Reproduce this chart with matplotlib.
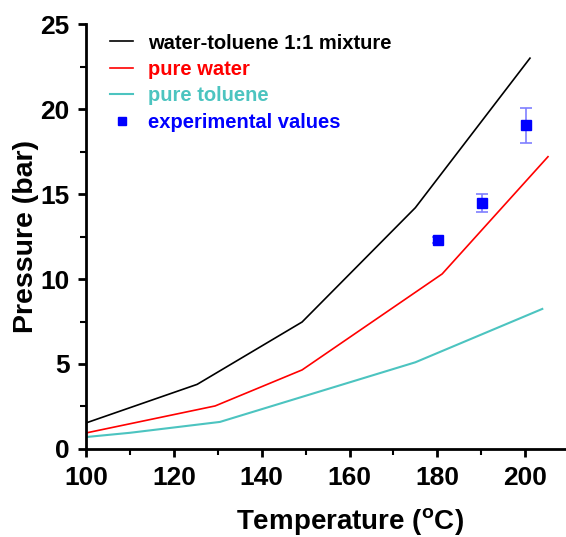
import numpy as np
import matplotlib.pyplot as plt
from matplotlib.ticker import MultipleLocator

plt.rcParams['font.family'] = ['Liberation Sans', 'DejaVu Sans']
plt.rcParams['font.weight'] = 'bold'

# ==== data ====
mix_T = [100, 125.3, 149.2, 175, 201.1]
mix_P = [1.53, 3.8, 7.47, 14.2, 23.0]

water_T = [100, 129.4, 149.2, 181.1, 205.2]
water_P = [0.94, 2.53, 4.65, 10.3, 17.2]

tol_T = [100, 110, 130.5, 175, 203.9]
tol_P = [0.7, 0.95, 1.59, 5.1, 8.24]

exp_T = [180.2, 190.2, 200.2]
exp_P = [12.3, 14.47, 19.06]
exp_err = [0.2, 0.53, 1.03]

fig = plt.figure(figsize=(5.66, 5.37), dpi=100)
ax = fig.add_axes([0.152, 0.164, 0.848, 0.791])

ax.plot(mix_T, mix_P, color='black', lw=1.2, label='water-toluene 1:1 mixture')
ax.plot(water_T, water_P, color='red', lw=1.2, label='pure water')
ax.plot(tol_T, tol_P, color='#4cc4c0', lw=1.5, label='pure toluene')
ax.errorbar(exp_T, exp_P, yerr=exp_err, fmt='none',
            ecolor='#7f7fff', elinewidth=1.2, capsize=4, capthick=1.2)
ax.plot(exp_T, exp_P, 's', color='blue', ms=7, label='experimental values')

ax.set_xlim(100, 209.3)
ax.set_ylim(0, 25)
ax.xaxis.set_major_locator(MultipleLocator(20))
ax.xaxis.set_minor_locator(MultipleLocator(10))
ax.yaxis.set_major_locator(MultipleLocator(5))
ax.yaxis.set_minor_locator(MultipleLocator(2.5))

for s in ['top', 'right']:
    ax.spines[s].set_visible(False)
for s in ['left', 'bottom']:
    ax.spines[s].set_linewidth(2)

ax.tick_params(which='major', direction='out', length=6, width=2, labelsize=19, pad=6)
ax.tick_params(which='minor', direction='out', length=4, width=1.5)
for lab in ax.get_xticklabels() + ax.get_yticklabels():
    lab.set_fontweight('bold')

ax.set_xlabel('Temperature ($^\\mathregular{o}$C)', fontsize=20, fontweight='bold')
ax.set_ylabel('Pressure (bar)', fontsize=20.5, fontweight='bold')
ax.xaxis.set_label_coords(0.55, -0.135)
ax.yaxis.set_label_coords(-0.097, 0.5)

leg = ax.legend(loc='upper left', bbox_to_anchor=(0.05, 0.978), frameon=False,
                fontsize=14.5, handlelength=1.15, handletextpad=0.75,
                labelspacing=0.37, borderaxespad=0, borderpad=0, markerscale=0.75)
for txt, c in zip(leg.get_texts(), ['black', 'red', '#4cc4c0', 'blue']):
    txt.set_color(c)
    txt.set_fontweight('bold')

fig.savefig('out.png', dpi=100)
